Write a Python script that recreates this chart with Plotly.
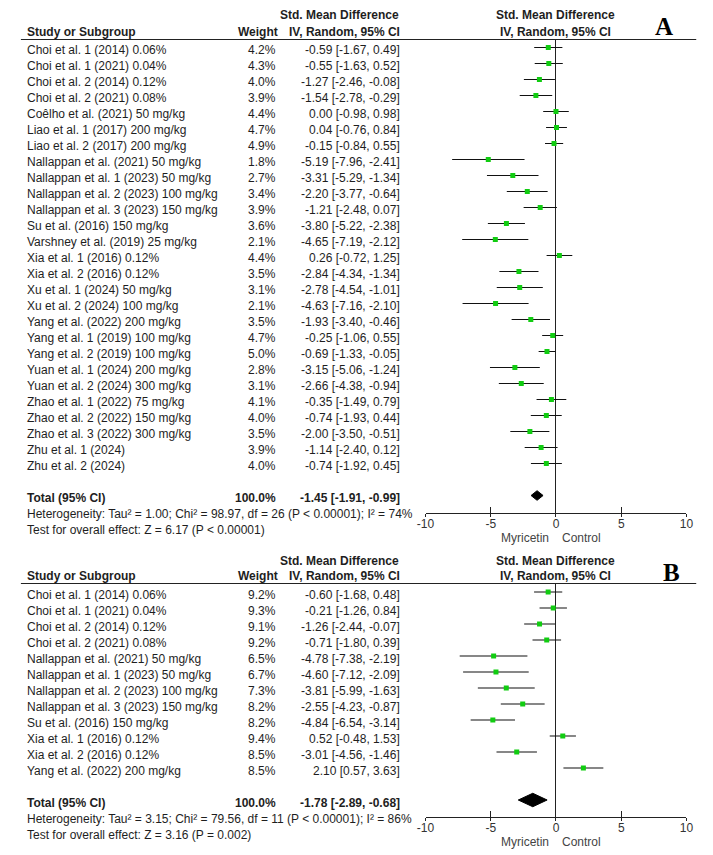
import plotly.graph_objects as go

# The page body has an 8px margin; build the figure in reference pixel space and shift by it.
OFF = 8
W, H = 713 - OFF, 855 - OFF
FONT = "Liberation Sans, Arial, sans-serif"
TXT = "#1e1e1e"

# ---------------- Panel A data ----------------
a_studies = [
    "Choi et al. 1 (2014) 0.06%", "Choi et al. 1 (2021) 0.04%", "Choi et al. 2 (2014) 0.12%",
    "Choi et al. 2 (2021) 0.08%", "Coêlho et al. (2021) 50 mg/kg", "Liao et al. 1 (2017) 200 mg/kg",
    "Liao et al. 2 (2017) 200 mg/kg", "Nallappan et al. (2021) 50 mg/kg", "Nallappan et al. 1 (2023) 50 mg/kg",
    "Nallappan et al. 2 (2023) 100 mg/kg", "Nallappan et al. 3 (2023) 150 mg/kg", "Su et al. (2016) 150 mg/kg",
    "Varshney et al. (2019) 25 mg/kg", "Xia et al. 1 (2016) 0.12%", "Xia et al. 2 (2016) 0.12%",
    "Xu et al. 1 (2024) 50 mg/kg", "Xu et al. 2 (2024) 100 mg/kg", "Yang et al. (2022) 200 mg/kg",
    "Yang et al. 1 (2019) 100 mg/kg", "Yang et al. 2 (2019) 100 mg/kg", "Yuan et al. 1 (2024) 200 mg/kg",
    "Yuan et al. 2 (2024) 300 mg/kg", "Zhao et al. 1 (2022) 75 mg/kg", "Zhao et al. 2 (2022) 150 mg/kg",
    "Zhao et al. 3 (2022) 300 mg/kg", "Zhu et al. 1 (2024)", "Zhu et al. 2 (2024)",
]
a_weight = [4.2, 4.3, 4.0, 3.9, 4.4, 4.7, 4.9, 1.8, 2.7, 3.4, 3.9, 3.6, 2.1, 4.4, 3.5,
            3.1, 2.1, 3.5, 4.7, 5.0, 2.8, 3.1, 4.1, 4.0, 3.5, 3.9, 4.0]
a_smd = [-0.59, -0.55, -1.27, -1.54, 0.00, 0.04, -0.15, -5.19, -3.31, -2.20, -1.21, -3.80, -4.65, 0.26,
         -2.84, -2.78, -4.63, -1.93, -0.25, -0.69, -3.15, -2.66, -0.35, -0.74, -2.00, -1.14, -0.74]
a_lo = [-1.67, -1.63, -2.46, -2.78, -0.98, -0.76, -0.84, -7.96, -5.29, -3.77, -2.48, -5.22, -7.19, -0.72,
        -4.34, -4.54, -7.16, -3.40, -1.06, -1.33, -5.06, -4.38, -1.49, -1.93, -3.50, -2.40, -1.92]
a_hi = [0.49, 0.52, -0.08, -0.29, 0.98, 0.84, 0.55, -2.41, -1.34, -0.64, 0.07, -2.38, -2.12, 1.25,
        -1.34, -1.01, -2.10, -0.46, 0.55, -0.05, -1.24, -0.94, 0.79, 0.44, -0.51, 0.12, 0.45]
a_total = [-1.45, -1.91, -0.99]
a_het = "Heterogeneity: Tau² = 1.00; Chi² = 98.97, df = 26 (P < 0.00001); I² = 74%"
a_test = "Test for overall effect: Z = 6.17 (P < 0.00001)"

# ---------------- Panel B data ----------------
b_studies = [
    "Choi et al. 1 (2014) 0.06%", "Choi et al. 1 (2021) 0.04%", "Choi et al. 2 (2014) 0.12%",
    "Choi et al. 2 (2021) 0.08%", "Nallappan et al. (2021) 50 mg/kg", "Nallappan et al. 1 (2023) 50 mg/kg",
    "Nallappan et al. 2 (2023) 100 mg/kg", "Nallappan et al. 3 (2023) 150 mg/kg", "Su et al. (2016) 150 mg/kg",
    "Xia et al. 1 (2016) 0.12%", "Xia et al. 2 (2016) 0.12%", "Yang et al. (2022) 200 mg/kg",
]
b_weight = [9.2, 9.3, 9.1, 9.2, 6.5, 6.7, 7.3, 8.2, 8.2, 9.4, 8.5, 8.5]
b_smd = [-0.60, -0.21, -1.26, -0.71, -4.78, -4.60, -3.81, -2.55, -4.84, 0.52, -3.01, 2.10]
b_lo = [-1.68, -1.26, -2.44, -1.80, -7.38, -7.12, -5.99, -4.23, -6.54, -0.48, -4.56, 0.57]
b_hi = [0.48, 0.84, -0.07, 0.39, -2.19, -2.09, -1.63, -0.87, -3.14, 1.53, -1.46, 3.63]
b_total = [-1.78, -2.89, -0.68]
b_het = "Heterogeneity: Tau² = 3.15; Chi² = 79.56, df = 11 (P < 0.00001); I² = 86%"
b_test = "Test for overall effect: Z = 3.16 (P = 0.002)"

x_ticks = [-10, -5, 0, 5, 10]
x_range = [-10, 10]
label_left, label_right = "Myricetin", "Control"
col_header = ["Study or Subgroup", "Weight", "Std. Mean Difference", "IV, Random, 95% CI"]
panel_letters = ["A", "B"]


def py(p):
    return 1 - (p - OFF) / H


def px(p):
    return (p - OFF) / W


fig = go.Figure()
annotations = []
shapes = []
layout_axes = {}

PITCH = 16.0
FX0, FX1 = 426, 693  # forest plot pixel extent (reference pixels)
TEXT_DY = 2.5        # text baseline sits slightly below the marker rows


def panel(idx, studies, weight, smd, lo, hi, total, het, test, top_line, row0, axis_px,
          smd_hdr_y, iv_hdr_y, letter_xy, diamond_h):
    n = len(studies)
    xnum = 2 * idx + 1
    xref = "x" if xnum == 1 else "x%d" % xnum
    xname = "xaxis" if xnum == 1 else "xaxis%d" % xnum
    xo = "x%d" % (xnum + 1)
    xoname = "xaxis%d" % (xnum + 1)
    yref = "y" if idx == 0 else "y%d" % (idx + 1)
    yname = "yaxis" if idx == 0 else "yaxis%d" % (idx + 1)

    rng = [(axis_px - row0) / PITCH, (top_line - row0) / PITCH]
    layout_axes[yname] = dict(domain=[py(axis_px), py(top_line)], range=rng, visible=False,
                              fixedrange=True)
    layout_axes[xname] = dict(domain=[px(FX0), px(FX1)], range=x_range, anchor=yref,
                              tickvals=x_ticks, ticktext=[str(t) for t in x_ticks],
                              ticks="inside", ticklen=6, tickwidth=1, tickcolor="#222",
                              showline=True, linecolor="#222", linewidth=1,
                              showgrid=False, zeroline=True, zerolinecolor="#222", zerolinewidth=1,
                              tickfont=dict(family=FONT, size=12, color="#333"))
    layout_axes[xoname] = dict(domain=[px(FX0), px(FX1)], range=x_range, anchor=yref,
                               overlaying=xref, tickvals=x_ticks, ticks="outside", ticklen=3,
                               tickwidth=1, tickcolor="#222", showticklabels=False,
                               showline=False, showgrid=False, zeroline=False)

    rows = list(range(n))
    fig.add_trace(go.Scatter(
        x=smd, y=rows, xaxis=xref, yaxis=yref, mode="markers",
        marker=dict(symbol="square", size=5, color="#11cc11", line=dict(width=0)),
        error_x=dict(type="data", symmetric=False,
                     array=[h - s for h, s in zip(hi, smd)],
                     arrayminus=[s - l for s, l in zip(smd, lo)],
                     color="#111", thickness=1.2, width=0),
        showlegend=False, hoverinfo="skip", cliponaxis=False))
    tr = n + 1
    est, tlo, thi = total
    dh = diamond_h
    fig.add_trace(go.Scatter(
        x=[tlo, est, thi, est, tlo], y=[tr, tr - dh, tr, tr + dh, tr],
        xaxis=xref, yaxis=yref, mode="lines", fill="toself", fillcolor="#000",
        line=dict(color="#000", width=1), showlegend=False, hoverinfo="skip"))
    fig.add_trace(go.Scatter(x=[None], y=[None], xaxis=xo, yaxis=yref, showlegend=False,
                             hoverinfo="skip"))

    def row_y(r):
        return py(row0 + TEXT_DY + PITCH * r)

    def ann(text, x, y, anchor, bold=False, size=12, color=TXT):
        annotations.append(dict(
            text="<b>%s</b>" % text if bold else text, x=px(x), xref="paper", y=y, yref="paper",
            xanchor=anchor, yanchor="middle", showarrow=False, borderpad=0,
            font=dict(family=FONT, size=size, color=color)))

    for i in range(n):
        ann(studies[i], 17, row_y(i), "left")
        ann("%.1f%%" % weight[i], 274, row_y(i), "right")
        ann("%.2f [%.2f, %.2f]" % (smd[i], lo[i], hi[i]), 401, row_y(i), "right")
    ann("Total (95% CI)", 17, row_y(tr), "left", bold=True)
    ann("100.0%", 274, row_y(tr), "right", bold=True)
    ann("%.2f [%.2f, %.2f]" % (est, tlo, thi), 401, row_y(tr), "right", bold=True)
    ann(het, 17, row_y(tr + 1), "left")
    ann(test, 17, row_y(tr + 2), "left")

    ann(col_header[0], 17, py(iv_hdr_y), "left", bold=True)
    ann(col_header[1], 276, py(iv_hdr_y), "right", bold=True)
    ann(col_header[2], 338, py(smd_hdr_y), "center", bold=True)
    ann(col_header[3], 401, py(iv_hdr_y), "right", bold=True)
    ann(col_header[2], 559, py(smd_hdr_y), "center", bold=True)
    ann(col_header[3], 559, py(iv_hdr_y), "center", bold=True)

    lab_y = py(axis_px + 25)
    annotations.append(dict(text=label_left, x=0, xref=xref, y=lab_y, yref="paper", xanchor="right",
                            yanchor="middle", xshift=-6, showarrow=False, borderpad=0,
                            font=dict(family=FONT, size=12, color="#444")))
    annotations.append(dict(text=label_right, x=0, xref=xref, y=lab_y, yref="paper", xanchor="left",
                            yanchor="middle", xshift=5, showarrow=False, borderpad=0,
                            font=dict(family=FONT, size=12, color="#444")))

    annotations.append(dict(text="<b>%s</b>" % panel_letters[idx], x=px(letter_xy[0]), xref="paper",
                            y=py(letter_xy[1]), yref="paper", xanchor="center", yanchor="middle",
                            showarrow=False,
                            font=dict(family="Liberation Serif, Times New Roman, serif", size=25,
                                      color="#000")))

    shapes.append(dict(type="line", xref="paper", yref="paper", x0=px(12), x1=px(703),
                       y0=py(top_line), y1=py(top_line), line=dict(color="#222", width=1.2)))


panel(0, a_studies, a_weight, a_smd, a_lo, a_hi, a_total, a_het, a_test,
      top_line=39.5, row0=47.5, axis_px=512.5, smd_hdr_y=15, iv_hdr_y=32, letter_xy=(670, 27),
      diamond_h=0.3)
panel(1, b_studies, b_weight, b_smd, b_lo, b_hi, b_total, b_het, b_test,
      top_line=583.5, row0=592, axis_px=817, smd_hdr_y=561, iv_hdr_y=576, letter_xy=(678, 572),
      diamond_h=0.42)

fig.update_layout(
    width=W, height=H, margin=dict(l=0, r=0, t=0, b=0),
    paper_bgcolor="white", plot_bgcolor="rgba(0,0,0,0)",
    showlegend=False, annotations=annotations, shapes=shapes,
    font=dict(family=FONT, size=12, color=TXT),
    **layout_axes,
)

fig.write_html("out.html", config={"displayModeBar": False})
